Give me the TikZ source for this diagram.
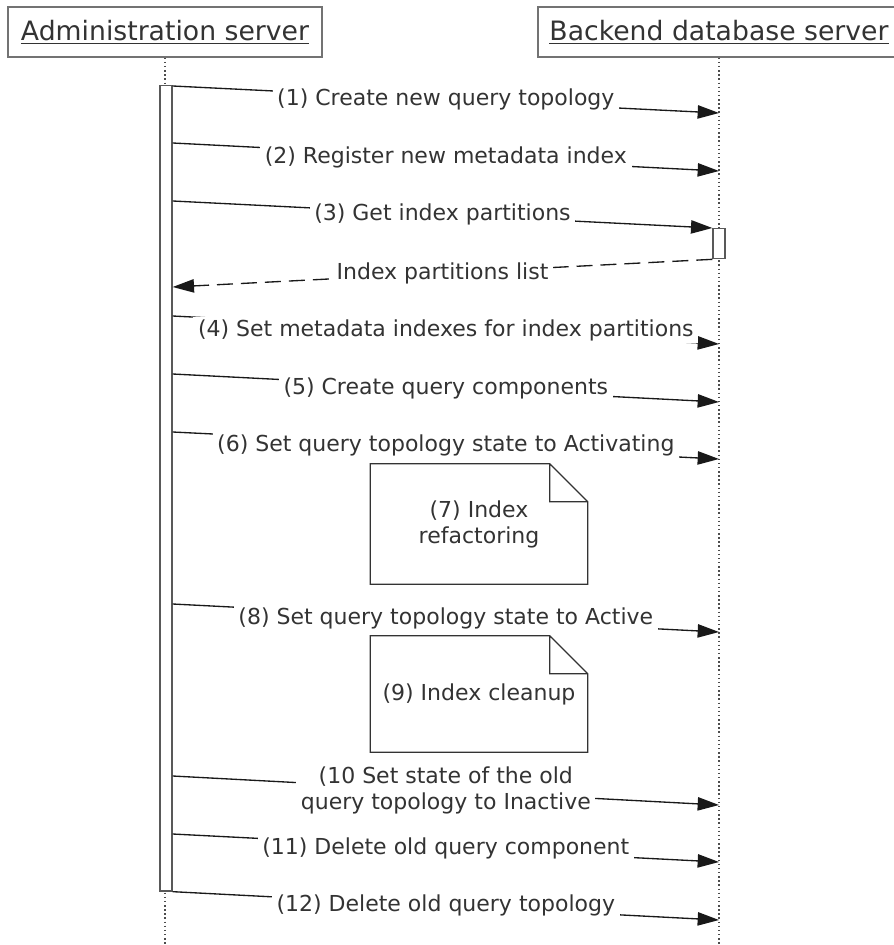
\documentclass[tikz,border=0pt]{standalone}
\usepackage{fontspec}
\setmainfont{DejaVu Sans}
\usepackage{tikz}
\usetikzlibrary{arrows.meta, positioning, calc}

\begin{document}
\begin{tikzpicture}[
  x=0.75pt, y=-0.75pt,
  >={Triangle[length=16pt, width=10pt]},
  actor/.style={draw=black!55, fill=white, line width=1.1pt, minimum height=37.5pt, inner sep=0pt,
    font=\fontsize{20}{24}\selectfont, text=black!80},
  lifeline/.style={dotted, line width=1.1pt, black!70},
  actbar/.style={draw=black!65, fill=white, line width=1pt, minimum width=9pt, inner sep=0pt, anchor=north},
  msg/.style={->, line width=1pt, black!90},
  reply/.style={->, line width=1pt, black!90, dash pattern=on 12pt off 6pt},
  lbl/.style={fill=white, inner xsep=3.5pt, inner ysep=1.5pt, font=\fontsize{16.5}{19.5}\selectfont, text=black!80},
  note/.style={minimum width=162.75pt, align=center, inner sep=0pt,
    font=\fontsize{16.5}{19.5}\selectfont, text=black!80},
]
\useasboundingbox (0,0) rectangle (893,945);

% Lifelines
\node[actor, minimum width=235.5pt] (admin) at (165,32) {\underline{Administration server}};
\node[actor, minimum width=271.5pt] (backend) at (719,32) {\underline{Backend database server}};
\coordinate (bottom) at (0,945);
\draw[lifeline] (admin.south) -- (admin.south |- bottom);
\draw[lifeline] (backend.south) -- (backend.south |- bottom);

\node[actbar, minimum height=604pt] (abar) at (166,85) {};
\node[actbar, minimum height=22.5pt] (bbar) at (719,228) {};

% Messages
\draw[msg] (abar.east |- 0,86) -- (backend.south |- 0,113)
  node[midway, lbl] {(1) Create new query topology};
\draw[msg] (abar.east |- 0,143) -- (backend.south |- 0,171)
  node[midway, lbl] {(2) Register new metadata index};
\draw[msg] (abar.east |- 0,201) -- (bbar.north west)
  node[midway, lbl] {(3) Get index partitions};
\draw[reply] (bbar.south west) -- (abar.east |- 0,287)
  node[midway, lbl] {Index partitions list};
\draw[msg] (abar.east |- 0,316) -- (backend.south |- 0,344)
  node[midway, lbl] {(4) Set metadata indexes for index partitions};
\draw[msg] (abar.east |- 0,374) -- (backend.south |- 0,402)
  node[midway, lbl] {(5) Create query components};
\draw[msg] (abar.east |- 0,432) -- (backend.south |- 0,459)
  node[midway, lbl] {(6) Set query topology state to Activating};
\draw[msg] (abar.east |- 0,604) -- (backend.south |- 0,632)
  node[midway, lbl] {(8) Set query topology state to Active};
\draw[msg] (abar.east |- 0,776) -- (backend.south |- 0,805)
  node[midway, lbl, align=center] {(10 Set state of the old\\query topology to Inactive};
\draw[msg] (abar.east |- 0,834) -- (backend.south |- 0,862)
  node[midway, lbl] {(11) Delete old query component};
\draw[msg] (abar.south east) -- (backend.south |- 0,920)
  node[midway, lbl] {(12) Delete old query topology};

% Notes
\node[note, minimum height=90pt] (refac) at (479,524) {(7) Index\\refactoring};
\node[note, minimum height=87pt] (cleanup) at (479,694) {(9) Index cleanup};
\foreach \n in {refac, cleanup}
  \draw[black!80, line width=1pt] (\n.north west) -- ([xshift=-28.5pt]\n.north east)
    -- ([yshift=-28.5pt]\n.north east) -- (\n.south east) -- (\n.south west) -- cycle
    ([xshift=-28.5pt]\n.north east) |- ([yshift=-28.5pt]\n.north east);

\end{tikzpicture}
\end{document}
